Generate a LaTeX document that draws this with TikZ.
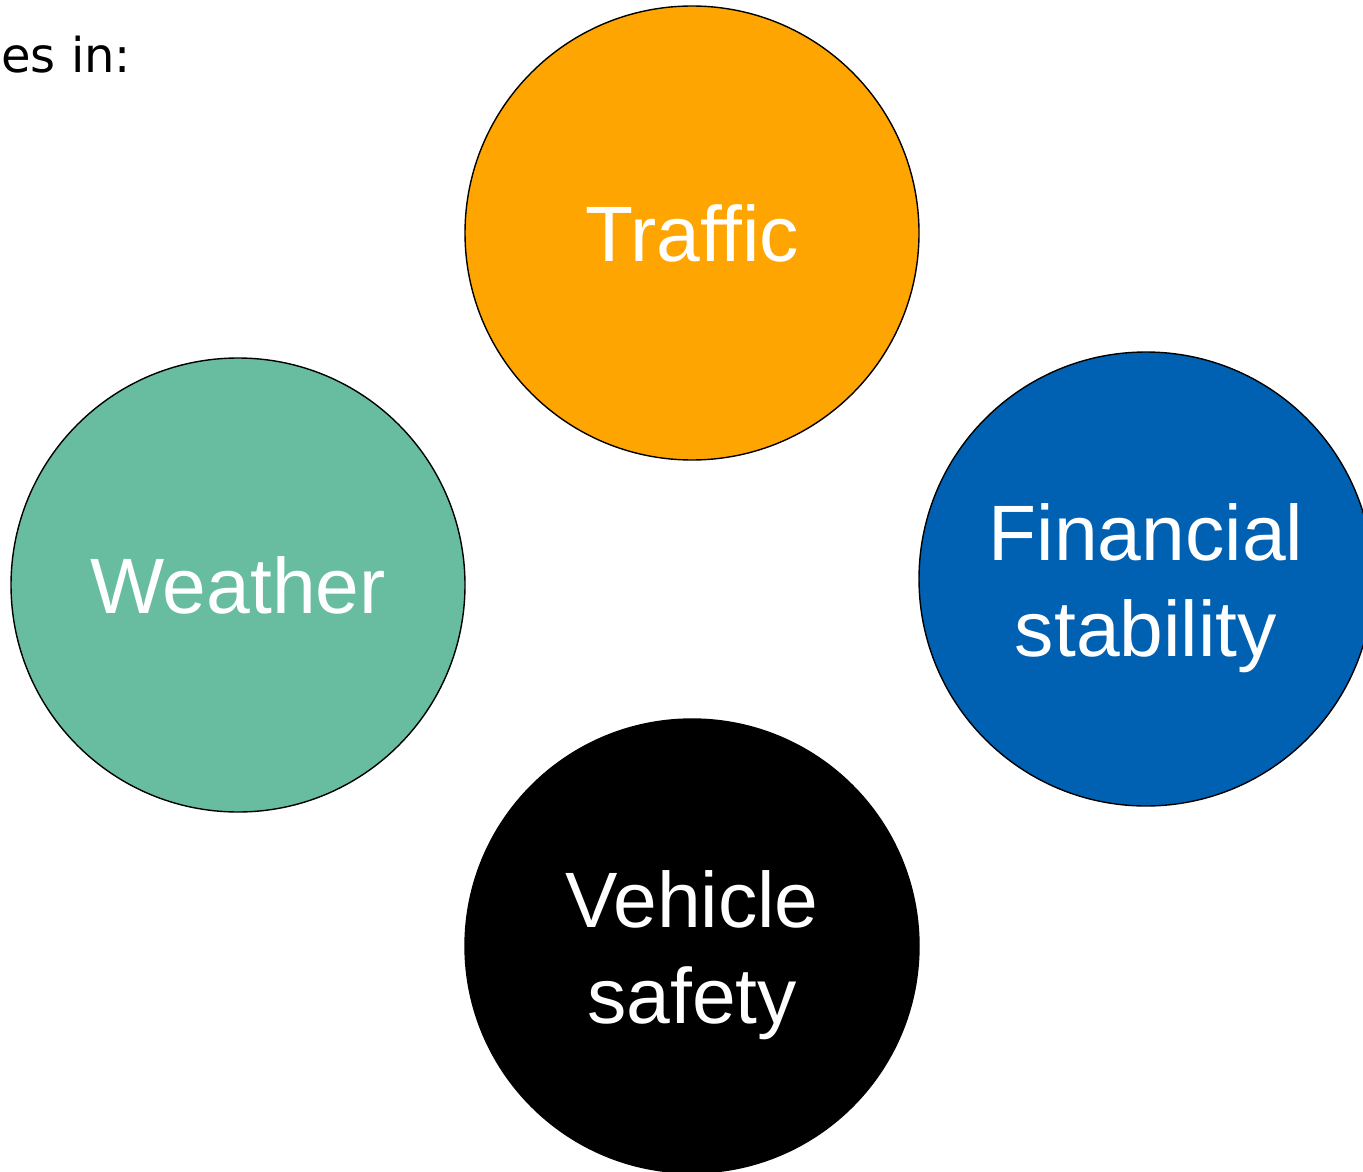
\documentclass[tikz,border=0pt]{standalone}
\usepackage{fontspec}
\setmainfont{Liberation Sans}
\newfontfamily\introfont{DejaVu Sans}
\usetikzlibrary{positioning}
\definecolor{trafficorange}{RGB}{255,165,2}
\definecolor{weathergreen}{RGB}{104,189,160}
\definecolor{financeblue}{RGB}{0,97,178}
\newcommand{\firstline}{\rule{0pt}{37.5pt}} % pushes two-line labels down a bit
\tikzset{
    node distance=2cm,
    every topic/.style={ % Sets the properties for each circle
        circle,
        draw=black,
        line width=0.7pt,
        minimum size=227pt,
        inner sep=0pt,
        text=white,
        align=center,
        font=\fontsize{39.3}{48}\selectfont
    },
    topic/.style={every topic, fill=#1}
}

\begin{document}
\begin{tikzpicture}
    \path[use as bounding box, clip] (0,0) rectangle (681.5pt,-585.5pt);

    \node[anchor=base west, inner sep=0pt, font=\introfont\fontsize{24}{29}\selectfont] (intro) at (0.5pt,-36.5pt) {es in:};

    \node[topic=trafficorange] (traffic) at (346pt,-116.5pt) {Traffic};
    \node[topic=black, on grid, below=356.5pt of traffic] (vehicle) {\firstline Vehicle\\safety};
    \node[topic=weathergreen, on grid, below left=176pt and 227pt of traffic] (weather) {Weather};
    \node[topic=financeblue, on grid, below right=173pt and 227pt of traffic] (financial) {\firstline Financial\\stability};
\end{tikzpicture}
\end{document}
